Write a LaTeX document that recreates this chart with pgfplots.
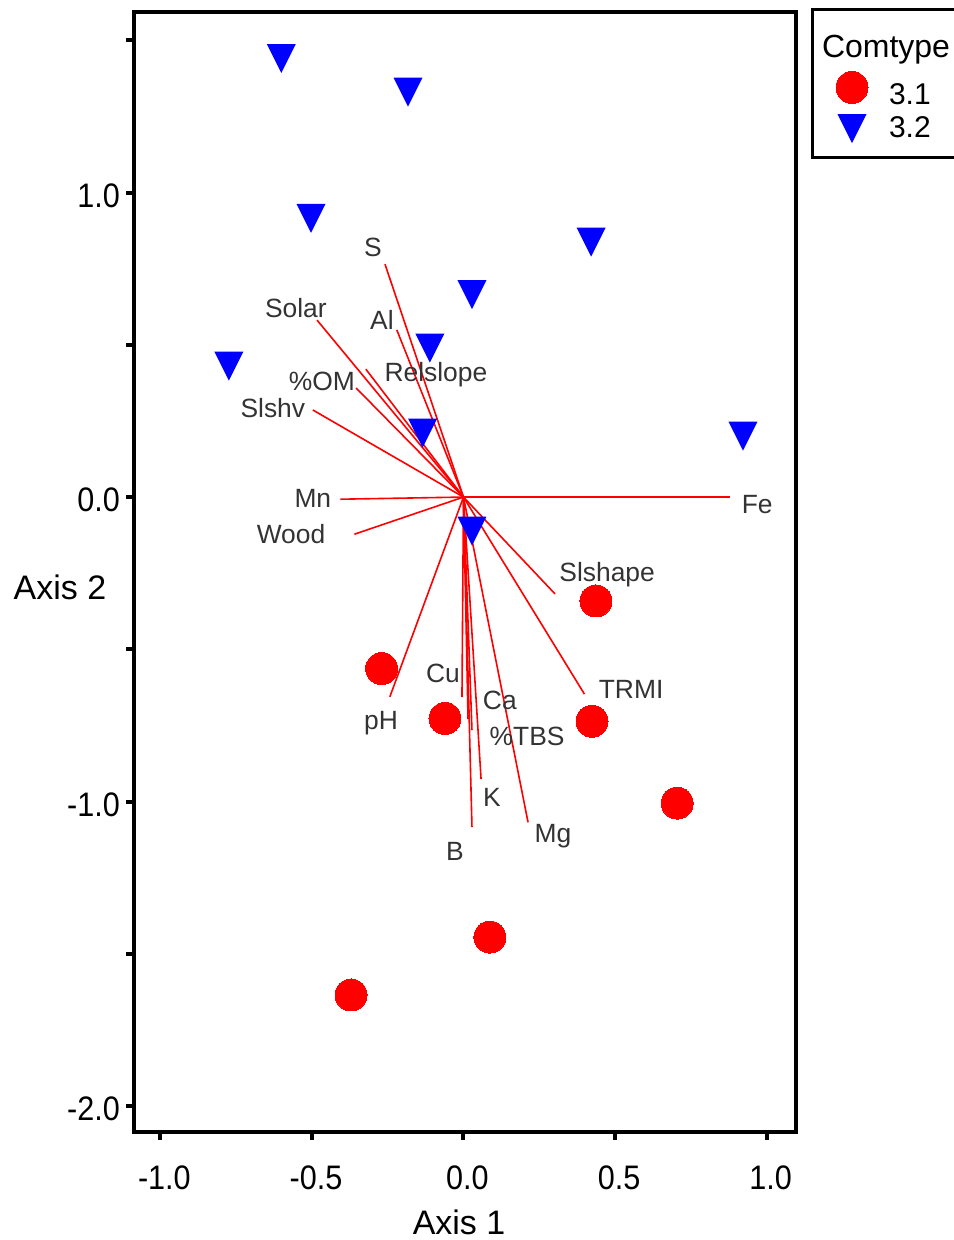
\documentclass[border=0pt]{standalone}
\usepackage{pgfplots}
\pgfplotsset{compat=1.18}
\usepackage{pgfplotstable}
\usepackage{fontspec}
\setmainfont{Liberation Sans}
\newfontfamily\tickfont{Liberation Sans}[FakeStretch=0.9]
\definecolor{lblgray}{HTML}{333333}
\definecolor{ptred}{HTML}{FF0000}
\definecolor{ptblue}{HTML}{0000FF}
\pgfdeclareplotmark{dtri}{%
  \pgfpathmoveto{\pgfqpoint{-\pgfplotmarksize}{\pgfplotmarksize}}%
  \pgfpathlineto{\pgfqpoint{\pgfplotmarksize}{\pgfplotmarksize}}%
  \pgfpathlineto{\pgfqpoint{0pt}{-\pgfplotmarksize}}%
  \pgfpathclose\pgfusepathqfill}
\pgfplotsset{myleg/.style={legend image code/.code={\path[draw=none,fill=none] (0pt,-8pt) rectangle (31.5pt,8pt); \draw[##1] plot coordinates {(14pt,0pt)};}}}

\pgfplotstableread{
x y
0.437 -0.341
-0.270 -0.563
-0.061 -0.727
0.424 -0.736
0.705 -1.005
0.087 -1.445
-0.371 -1.635
}\groupone

\pgfplotstableread{
x y
-0.601 1.440
-0.183 1.330
-0.503 0.915
0.421 0.837
0.028 0.665
-0.111 0.489
-0.774 0.430
-0.135 0.210
0.922 0.200
0.028 -0.112
}\grouptwo

\pgfplotstableread{
x y u v
0 0 -0.259 0.765
0 0 -0.483 0.581
0 0 -0.220 0.549
0 0 -0.322 0.420
0 0 -0.354 0.358
0 0 -0.497 0.286
0 0 -0.406 -0.007
0 0 -0.360 -0.122
0 0 0.879 0.000
0 0 0.302 -0.318
0 0 0.399 -0.647
0 0 -0.243 -0.656
0 0 -0.005 -0.657
0 0 0.015 -0.729
0 0 0.028 -0.765
0 0 0.058 -0.926
0 0 0.028 -1.084
0 0 0.213 -1.068
}\vectors

\begin{document}
\begin{tikzpicture}
\begin{axis}[
  at={(0pt,0pt)}, anchor=south west,
  scale only axis, width=331pt, height=560pt,
  xmin=-1.087, xmax=1.097, ymin=-2.085, ymax=1.593,
  axis line style={line width=2pt},
  tick align=outside, major tick length=4pt,
  every tick/.style={black, line width=2pt},
  xtick pos=bottom, ytick pos=left,
  xtick={-1,-0.5,0,0.5,1}, xticklabels={-1.0,-0.5,0.0,0.5,1.0},
  ytick={-2,-1.5,-1,-0.5,0,0.5,1,1.5}, yticklabels={-2.0,,-1.0,,0.0,,1.0,},
  tick label style={font=\tickfont\fontsize{17}{20}\selectfont},
  xticklabel style={yshift=-9.5pt, xshift=2pt},
  yticklabel style={yshift=-1.5pt, xshift=0.5pt},
  xlabel={Axis 1}, ylabel={Axis 2},
  label style={font=\fontsize{17}{20}\selectfont},
  xlabel style={at={(axis description cs:0.491,-0.0805)}, anchor=center},
  ylabel style={at={(axis description cs:-0.1118,0.4866)}, anchor=center, rotate=-90},
  legend style={at={(axis description cs:1.0219,1.004)}, anchor=north west,
    draw=black, line width=1.5pt, font=\fontsize{15}{18}\selectfont,
    inner xsep=6pt, inner ysep=6.5pt, row sep=1.5pt,
    nodes={inner sep=1pt}},
  legend cell align=left,
]
\addlegendimage{empty legend}
\addlegendentry{\hspace*{-33.5pt}\fontsize{16}{18}\selectfont Comtype\rule{0pt}{16.6pt}}
\addplot[only marks, mark=*, mark size=8pt, color=ptred, line width=0pt, myleg]
  table {\groupone};
\addlegendentry{3.1\rule{0pt}{18.7pt}}
\addplot[only marks, mark=dtri, mark size=7.25pt, color=ptblue, myleg]
  table {\grouptwo};
\addlegendentry{3.2}
\addplot[forget plot, no markers, ptred, line width=0.8pt,
  quiver={u=\thisrow{u}, v=\thisrow{v}}] table {\vectors};

\begin{scope}[every node/.style={font=\fontsize{13.2}{15}\selectfont, text=lblgray, inner sep=0pt, anchor=center}]
\node at (axis cs:-0.299,0.821) {S};
\node at (axis cs:-0.553,0.621) {Solar};
\node at (axis cs:-0.269,0.581) {Al};
\node at (axis cs:-0.091,0.401) {Relslope};
\node at (axis cs:-0.467,0.381) {\%OM};
\node at (axis cs:-0.629,0.292) {Slshv};
\node at (axis cs:-0.497,-0.003) {Mn};
\node at (axis cs:-0.569,-0.122) {Wood};
\node at (axis cs:0.969,-0.023) {Fe};
\node at (axis cs:0.474,-0.256) {Slshape};
\node at (axis cs:0.553,-0.631) {TRMI};
\node at (axis cs:-0.272,-0.742) {pH};
\node at (axis cs:-0.068,-0.578) {Cu};
\node at (axis cs:0.120,-0.667) {Ca};
\node at (axis cs:0.210,-0.785) {\%TBS};
\node at (axis cs:0.094,-0.985) {K};
\node at (axis cs:-0.028,-1.163) {B};
\node at (axis cs:0.295,-1.113) {Mg};
\end{scope}
\end{axis}
\pgfresetboundingbox
\useasboundingbox (-67pt,-54pt) rectangle (409.5pt,566pt);
\end{tikzpicture}
\end{document}
